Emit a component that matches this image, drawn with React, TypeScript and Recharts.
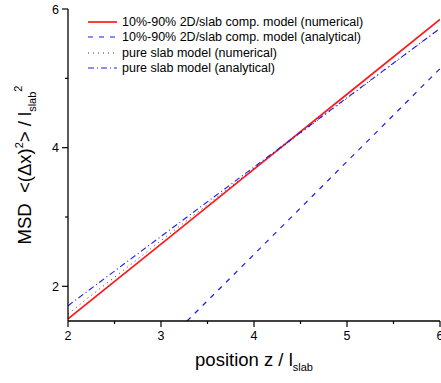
import React from "react";
import { LineChart, Line, XAxis, YAxis, Legend, Label } from "recharts";

const FONT = "'Liberation Sans', Arial, sans-serif";

// 10%-90% 2D/slab composite model, numerical
const compNumX = [2, 3, 4, 5, 6];
const compNumY = [1.53, 2.61, 3.69, 4.77, 5.85];

// 10%-90% 2D/slab composite model, analytical
const compAnaX = [3.28, 4, 5, 6];
const compAnaY = [1.5, 2.46, 3.8, 5.14];

// pure slab model, numerical
const slabNumX = [2, 2.25, 2.5, 3, 3.5, 4, 5, 6];
const slabNumY = [1.6, 1.87, 2.13, 2.66, 3.18, 3.7, 4.71, 5.72];

// pure slab model, analytical
const slabAnaX = [2, 3, 4, 5, 6];
const slabAnaY = [1.72, 2.72, 3.72, 4.72, 5.72];

const xTicks = [2, 2.5, 3, 3.5, 4, 4.5, 5, 5.5, 6];
const yTicks = [2, 3, 4, 5, 6];
const yLabeled = [2, 4, 6];

const toPoints = (xs: number[], ys: number[]) => xs.map((x, i) => ({ x, y: ys[i] }));

const series = [
  { name: "10%-90% 2D/slab comp. model (numerical)", data: toPoints(compNumX, compNumY), color: "#ff1a1a", width: 1.7, dash: undefined },
  { name: "10%-90% 2D/slab comp. model (analytical)", data: toPoints(compAnaX, compAnaY), color: "#1a1aff", width: 1.2, dash: "5 6" },
  { name: "pure slab model (numerical)", data: toPoints(slabNumX, slabNumY), color: "#333333", width: 1, dash: "1 4" },
  { name: "pure slab model (analytical)", data: toPoints(slabAnaX, slabAnaY), color: "#1a1aff", width: 1.1, dash: "6 3 1 3" },
];

const XTick = (props: any) => {
  const { x, y, payload } = props;
  const v = payload.value;
  const major = Number.isInteger(v);
  return (
    <g>
      <line x1={x} x2={x} y1={y} y2={y + (major ? 6 : 3)} stroke="#000" strokeWidth={1.2} />
      {major && (
        <text x={x} y={y + 19} textAnchor="middle" fontSize={12.5} fontFamily={FONT} fill="#000">
          {v}
        </text>
      )}
    </g>
  );
};

const YTick = (props: any) => {
  const { x, y, payload } = props;
  const v = payload.value;
  const major = yLabeled.includes(v);
  return (
    <g>
      <line x1={x - (major ? 6 : 3)} x2={x} y1={y} y2={y} stroke="#000" strokeWidth={1.2} />
      {major && (
        <text x={x - 9} y={y + 4.5} textAnchor="end" fontSize={12.5} fontFamily={FONT} fill="#000">
          {v}
        </text>
      )}
    </g>
  );
};

const XTitle = (props: any) => {
  const { viewBox } = props;
  const cx = viewBox.x + viewBox.width / 2;
  return (
    <text x={cx} y={366} textAnchor="middle" fontSize={18.5} fontFamily={FONT} fill="#000">
      position z / l<tspan dy={5} fontSize={11}>slab</tspan>
    </text>
  );
};

const YTitle = (props: any) => {
  const { viewBox } = props;
  const cy = viewBox.y + viewBox.height / 2;
  return (
    <text
      transform={`translate(31,${cy}) rotate(-90)`}
      textAnchor="middle"
      fontSize={18.5}
      fontFamily={FONT}
      fill="#000"
      style={{ whiteSpace: "pre" }}
    >
      {"MSD  <(\u0394x)"}
      <tspan dy={-8} fontSize={11}>2</tspan>
      <tspan dy={8}>{"> / l"}</tspan>
      <tspan dy={5} fontSize={11}>slab</tspan>
      <tspan dy={-14} fontSize={11}>2</tspan>
    </text>
  );
};

const LegendBox = () => (
  <div style={{ fontFamily: FONT, fontSize: 12.5, color: "#000" }}>
    {series.map((s) => (
      <div key={s.name} style={{ display: "flex", alignItems: "center", height: 15.5, whiteSpace: "nowrap" }}>
        <svg width={30} height={10} style={{ marginRight: 4 }}>
          <line x1={0} x2={29} y1={5} y2={5} stroke={s.color} strokeWidth={s.width} strokeDasharray={s.dash} />
        </svg>
        <span>{s.name}</span>
      </div>
    ))}
  </div>
);

export default function App() {
  return (
    <div style={{ position: "relative", width: 441, height: 383, background: "#fff" }}>
      <style>{"body{margin:0}"}</style>
      <LineChart width={441} height={383} margin={{ top: 9, right: 1, left: 0, bottom: 0 }}>
        <XAxis
          type="number"
          dataKey="x"
          domain={[2, 6]}
          ticks={xTicks}
          allowDataOverflow
          height={62}
          tickSize={0}
          tickMargin={0}
          tickLine={false}
          tick={<XTick />}
          axisLine={{ stroke: "#000", strokeWidth: 1.3 }}
          interval={0}
        >
          <Label content={<XTitle />} />
        </XAxis>
        <YAxis
          type="number"
          dataKey="y"
          domain={[1.5, 6]}
          ticks={yTicks}
          allowDataOverflow
          width={68}
          tickSize={0}
          tickMargin={0}
          tickLine={false}
          tick={<YTick />}
          axisLine={{ stroke: "#000", strokeWidth: 1.3 }}
          interval={0}
        >
          <Label content={<YTitle />} />
        </YAxis>
        <Legend
          layout="vertical"
          align="center"
          verticalAlign="middle"
          content={<LegendBox />}
          wrapperStyle={{ position: "absolute", left: 88, top: 14, width: "auto" }}
        />
        {series.map((s) => (
          <Line
            key={s.name}
            data={s.data}
            dataKey="y"
            name={s.name}
            type="linear"
            stroke={s.color}
            strokeWidth={s.width}
            strokeDasharray={s.dash}
            dot={false}
            activeDot={false}
            isAnimationActive={false}
          />
        ))}
      </LineChart>
    </div>
  );
}
